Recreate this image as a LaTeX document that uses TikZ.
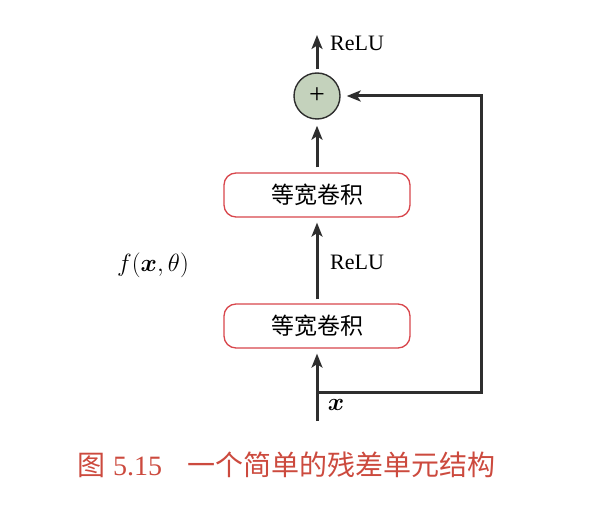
\documentclass[tikz,border=0pt]{standalone}
\usepackage{amsmath,bm}
\usepackage{fontspec}
\setmainfont{Liberation Serif}
\newfontfamily\cjk{Noto Sans CJK SC}
\usetikzlibrary{arrows.meta}
\definecolor{linec}{HTML}{2E2E2E}
\definecolor{boxred}{HTML}{D8464C}
\definecolor{capred}{HTML}{CC4A3E}
\definecolor{addfill}{HTML}{C4D2BC}
\begin{document}
\begin{tikzpicture}[x=1pt,y=-1pt,
  conn/.style={draw=linec,line width=3pt,-{Stealth[length=14pt,width=11pt,inset=3.5pt]}},
  convbox/.style={draw=boxred,line width=1.3pt,rounded corners=12pt,minimum width=186pt,minimum height=44pt,inner sep=0pt,fill=white,font=\cjk\fontsize{23}{23}\selectfont},
  addnode/.style={circle,draw=linec,line width=1.4pt,fill=addfill,minimum size=46pt,inner sep=0pt,text=black,font=\fontsize{28}{28}\selectfont},
  lbl/.style={font=\fontsize{22}{22}\selectfont,inner sep=0pt}]
\useasboundingbox (0,0) rectangle (615,521);
\node[convbox] (c1) at (317,326) {等宽卷积};
\node[convbox] (c2) at (317,195) {等宽卷积};
\node[addnode] (add) at (317,96) {\raisebox{1pt}{+}};
\coordinate (in) at (317,421);
\coordinate (out) at (317,35);
\coordinate (split) at (318,392);
\coordinate (sk1) at (481,392);
\coordinate (sk2) at (481,96);
\draw[conn,shorten >=5pt] (in) -- (c1);
\draw[conn,shorten <=4pt,shorten >=5pt] (c1) -- (c2);
\draw[conn,shorten <=5pt,shorten >=6pt] (c2) -- (add);
\draw[conn,shorten <=3pt] (add) -- (out);
\draw[conn,shorten >=6pt] (split) -- (sk1) -- (sk2) -- (add);
\node[lbl,anchor=west] (r1) at (330,43) {ReLU};
\node[lbl,anchor=west] (r2) at (330,262) {ReLU};
\node[lbl] (xl) at (336,405) {\fontsize{23}{23}\selectfont$\bm{x}$};
\node[lbl] (fl) at (153,265) {\fontsize{26}{26}\selectfont$f(\bm{x},\theta)$};
\node[anchor=west,inner sep=0pt,text=capred,font=\fontsize{28}{28}\selectfont] (cap) at (77,465) {{\cjk 图}\hspace{8pt}5.15\hspace{25pt}{\cjk 一个简单的残差单元结构}};
\end{tikzpicture}
\end{document}
